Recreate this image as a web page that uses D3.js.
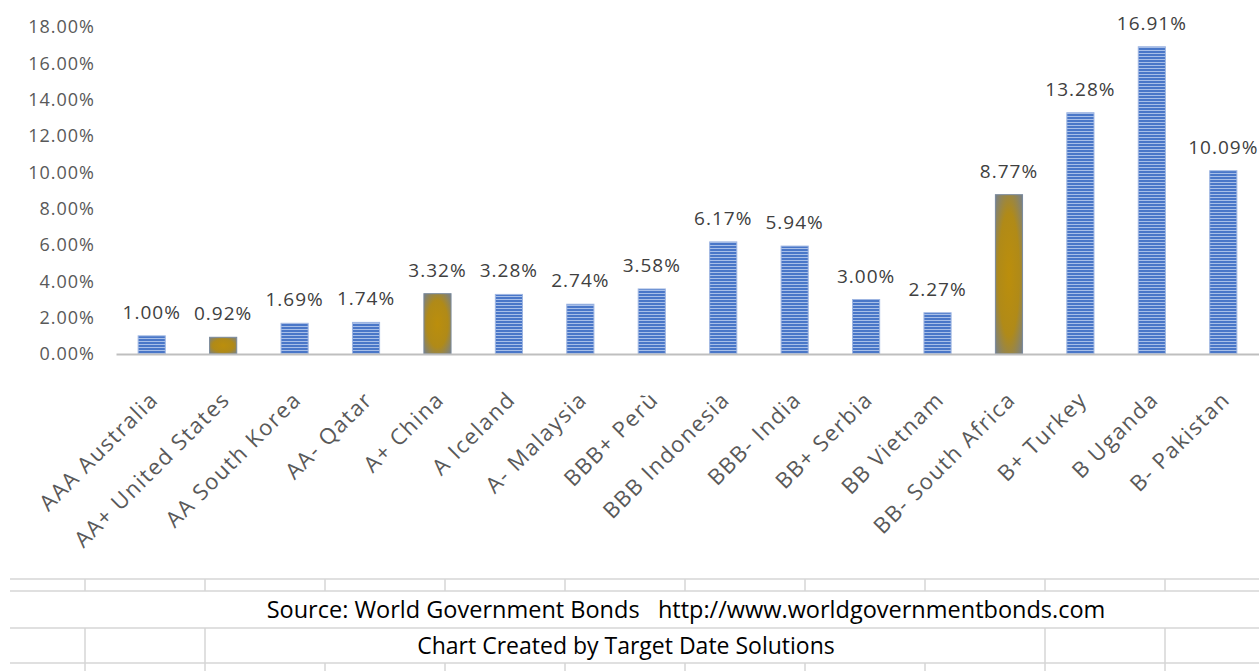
<html>
<head>
<script src="https://d3js.org/d3.v7.min.js"></script>
<style>
  body { margin: 0; background: #fff; }
  text { font-family: "Open Sans", sans-serif; }
</style>
</head>
<body>
<div id="chart"></div>
<script>
// data
var categories = ["AAA Australia", "AA+ United States", "AA South Korea", "AA- Qatar", "A+ China",
  "A Iceland", "A- Malaysia", "BBB+ Perù", "BBB Indonesia", "BBB- India", "BB+ Serbia",
  "BB Vietnam", "BB- South Africa", "B+ Turkey", "B Uganda", "B- Pakistan"];
var values = [1.00, 0.92, 1.69, 1.74, 3.32, 3.28, 2.74, 3.58, 6.17, 5.94, 3.00, 2.27, 8.77, 13.28, 16.91, 10.09];
var highlighted = ["AA+ United States", "A+ China", "BB- South Africa"];
var yTicks = [0, 2, 4, 6, 8, 10, 12, 14, 16, 18];
var footerLines = ["Source: World Government Bonds   http://www.worldgovernmentbonds.com",
  "Chart Created by Target Date Solutions"];

var W = 1259, H = 671;
var svg = d3.select("#chart").append("svg").attr("width", W).attr("height", H);

var defs = svg.append("defs");
var pat = defs.append("pattern").attr("id", "stripes")
  .attr("patternUnits", "userSpaceOnUse").attr("width", 10).attr("height", 3);
pat.append("rect").attr("width", 10).attr("height", 3).attr("fill", "#4a77c8");
pat.append("rect").attr("y", 2).attr("width", 10).attr("height", 1).attr("fill", "#a8bfe8");

var grad = defs.append("radialGradient").attr("id", "gold").attr("cx", "50%").attr("cy", "50%").attr("r", "70%");
grad.append("stop").attr("offset", "0%").attr("stop-color", "#bb8e0c");
grad.append("stop").attr("offset", "55%").attr("stop-color", "#b08a18");
grad.append("stop").attr("offset", "100%").attr("stop-color", "#76808c");

var x = d3.scaleBand().domain(categories).range([116, 1259]).paddingInner(0.62).paddingOuter(0.31);
var y = d3.scaleLinear().domain([0, 18]).range([354, 27]);

// y tick labels
var yAxis = svg.append("g").attr("transform", "translate(104,0)")
  .call(d3.axisLeft(y).tickValues(yTicks).tickSize(0).tickPadding(9)
    .tickFormat(function(d) { return d.toFixed(2) + "%"; }));
yAxis.select(".domain").remove();
yAxis.selectAll("text").attr("fill", "#595959").style("font-size", "18px")
  .style("letter-spacing", "1px")
  .style("font-family", "'Open Sans', sans-serif");

// bars
svg.selectAll("rect.bar").data(categories).enter().append("rect").attr("class", "bar")
  .attr("x", function(d) { return x(d); })
  .attr("y", function(d, i) { return y(values[i]); })
  .attr("width", x.bandwidth())
  .attr("height", function(d, i) { return y(0) - y(values[i]); })
  .attr("fill", function(d) { return highlighted.indexOf(d) >= 0 ? "url(#gold)" : "url(#stripes)"; })
  .attr("stroke", function(d) { return highlighted.indexOf(d) >= 0 ? "#7a8a9c" : "#9fb6e2"; })
  .attr("stroke-width", 1);

// x axis
var xAxis = svg.append("g").attr("transform", "translate(0,354)")
  .call(d3.axisBottom(x).tickSize(0).tickFormat(""));
xAxis.select(".domain").attr("stroke", "#bfbfbf").attr("stroke-width", 2);

// category labels
svg.selectAll("text.cat").data(categories).enter().append("text").attr("class", "cat")
  .attr("transform", function(d) { return "translate(" + (x(d) + x.bandwidth() / 2 + 8) + ",401) rotate(-45)"; })
  .attr("text-anchor", "end")
  .attr("fill", "#595959")
  .style("font-size", "22px")
  .style("letter-spacing", "1.5px")
  .text(function(d) { return d; });

// data labels
svg.selectAll("text.val").data(categories).enter().append("text").attr("class", "val")
  .attr("x", function(d) { return x(d) + x.bandwidth() / 2; })
  .attr("y", function(d, i) { return y(values[i]) - 17; })
  .attr("text-anchor", "middle")
  .attr("fill", "#404040")
  .style("font-size", "19px")
  .style("letter-spacing", "1px")
  .text(function(d, i) { return values[i].toFixed(2) + "%"; });

// spreadsheet grid below the chart
var grid = svg.append("g").attr("stroke", "#d6d6d6").attr("stroke-width", 1.5);
[579, 591, 628, 663].forEach(function(yy) {
  grid.append("line").attr("x1", 10).attr("x2", W).attr("y1", yy).attr("y2", yy);
});
for (var cx = 85; cx < W; cx += 120) {
  grid.append("line").attr("x1", cx).attr("x2", cx).attr("y1", 579).attr("y2", 591);
  grid.append("line").attr("x1", cx).attr("x2", cx).attr("y1", 663).attr("y2", H);
  if (cx <= 205 || cx >= 1045)
    grid.append("line").attr("x1", cx).attr("x2", cx).attr("y1", 628).attr("y2", 663);
}

svg.append("text").attr("x", 686).attr("y", 618).attr("text-anchor", "middle")
  .attr("fill", "#000").style("font-size", "23.5px").style("white-space", "pre")
  .text(footerLines[0]);
svg.append("text").attr("x", 626).attr("y", 654).attr("text-anchor", "middle")
  .attr("fill", "#000").style("font-size", "23px")
  .text(footerLines[1]);
</script>
</body>
</html>
